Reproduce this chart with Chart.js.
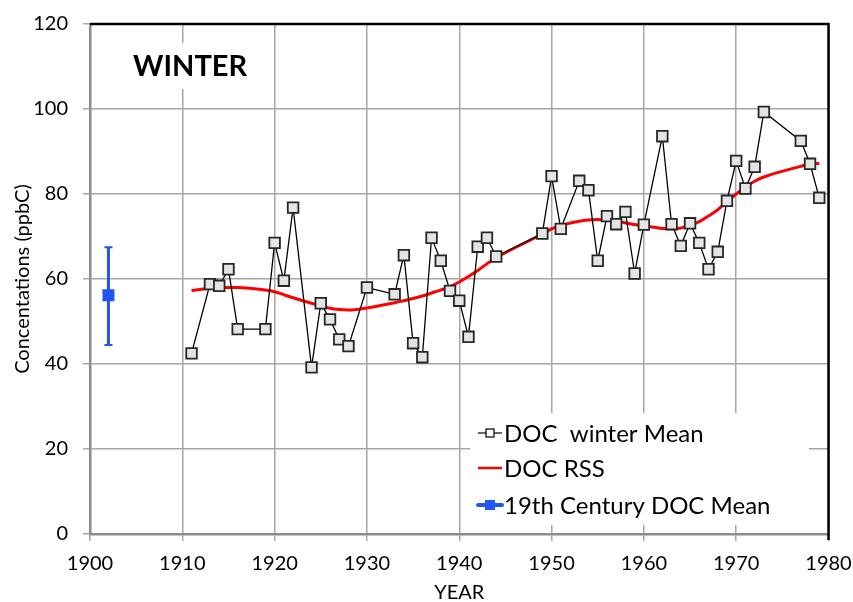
<!DOCTYPE html>
<html>
<head>
<meta charset="utf-8">
<script src="https://cdn.jsdelivr.net/npm/chart.js@4.4.1/dist/chart.umd.min.js"></script>
<style>
  body { margin: 0; background: #fff; }
  #wrap { width: 853px; height: 602px; }
</style>
</head>
<body>
<div id="wrap"><canvas id="chart" width="853" height="602"></canvas></div>
<script>
// winter DOC values
const years = [1911, 1913, 1914, 1915, 1916, 1919, 1920, 1921, 1922, 1924, 1925, 1926, 1927, 1928,
  1930, 1933, 1934, 1935, 1936, 1937, 1938, 1939, 1940, 1941, 1942, 1943, 1944,
  1949, 1950, 1951, 1953, 1954, 1955, 1956, 1957, 1958, 1959, 1960,
  1962, 1963, 1964, 1965, 1966, 1967, 1968, 1969, 1970, 1971, 1972, 1973, 1977, 1978, 1979];
const winterMean = [42.5, 58.8, 58.4, 62.3, 48.2, 48.2, 68.5, 59.6, 76.8, 39.2, 54.3, 50.5, 45.8, 44.2,
  58.0, 56.4, 65.6, 44.9, 41.6, 69.7, 64.3, 57.2, 54.9, 46.4, 67.6, 69.7, 65.3,
  70.7, 84.2, 71.8, 83.1, 80.9, 64.3, 74.8, 72.9, 75.8, 61.3, 72.8,
  93.6, 72.9, 67.8, 73.1, 68.5, 62.3, 66.4, 78.4, 87.8, 81.3, 86.4, 99.3, 92.5, 87.1, 79.1];
const rssValues = [57.3, 57.8, 58.0, 58.0, 58.0, 57.4, 57.0, 56.3, 55.6, 54.3, 53.7, 53.1, 52.8, 52.7,
  53.2, 54.4, 54.9, 55.4, 56.0, 56.7, 57.4, 58.2, 59.3, 60.6, 62.0, 63.6, 65.0,
  70.6, 71.8, 72.6, 73.6, 73.9, 74.0, 73.9, 73.6, 73.2, 72.8, 72.5,
  71.9, 71.8, 72.0, 72.6, 73.5, 74.8, 76.3, 78.2, 80.0, 81.7, 83.0, 84.0, 86.5, 87.1, 87.2];

// 19th century mean with its range
const centuryYear = [1902];
const centuryMean = [56.2];
const centuryLow = [44.5];
const centuryHigh = [67.5];

const legendLabels = ['DOC  winter Mean', 'DOC RSS', '19th Century DOC Mean'];
const blue = '#2156f5';
const gridGrey = '#a6a6a6';

const extras = {
  id: 'extras',
  beforeDatasetsDraw(chart) {
    const ctx = chart.ctx;
    const xs = chart.scales.x, ys = chart.scales.y;
    ctx.save();
    // white boxes behind the label and legend
    ctx.fillStyle = '#fff';
    ctx.fillRect(125, 43, 124, 46);
    ctx.fillRect(470, 413, 339, 112);
    // error bars
    ctx.strokeStyle = blue;
    centuryYear.forEach((yr, i) => {
      const px = xs.getPixelForValue(yr);
      const top = ys.getPixelForValue(centuryHigh[i]);
      const bot = ys.getPixelForValue(centuryLow[i]);
      ctx.lineWidth = 3;
      ctx.beginPath();
      ctx.moveTo(px, top); ctx.lineTo(px, bot);
      ctx.stroke();
      ctx.lineWidth = 2;
      ctx.beginPath();
      ctx.moveTo(px - 4, top); ctx.lineTo(px + 4, top);
      ctx.moveTo(px - 4, bot); ctx.lineTo(px + 4, bot);
      ctx.stroke();
    });
    ctx.restore();
  },
  afterDatasetsDraw(chart) {
    const ctx = chart.ctx;
    const a = chart.chartArea;
    ctx.save();
    // black frame top and right
    ctx.strokeStyle = '#000';
    ctx.lineWidth = 2.5;
    ctx.beginPath();
    ctx.moveTo(a.left, a.top);
    ctx.lineTo(a.right, a.top);
    ctx.lineTo(a.right, a.bottom + 6);
    ctx.stroke();

    ctx.fillStyle = '#000';
    ctx.font = 'bold 29px Lato';
    ctx.textBaseline = 'middle';
    ctx.fillText('WINTER', 133, 67);

    // legend
    ctx.font = '24px Lato';
    const rows = [433, 468, 505];
    const lx0 = 478, lx1 = 502, tx = 504;
    // row 1
    ctx.strokeStyle = '#000';
    ctx.lineWidth = 1.2;
    ctx.beginPath(); ctx.moveTo(lx0, rows[0]); ctx.lineTo(lx1, rows[0]); ctx.stroke();
    ctx.fillStyle = '#fff';
    ctx.fillRect(486, rows[0] - 4, 8, 8);
    ctx.strokeRect(486, rows[0] - 4, 8, 8);
    // row 2
    ctx.strokeStyle = '#ff0000';
    ctx.lineWidth = 2.5;
    ctx.beginPath(); ctx.moveTo(lx0, rows[1]); ctx.lineTo(lx1, rows[1]); ctx.stroke();
    // row 3
    ctx.strokeStyle = blue;
    ctx.lineWidth = 4;
    ctx.lineCap = 'round';
    ctx.beginPath(); ctx.moveTo(lx0, rows[2]); ctx.lineTo(lx1, rows[2]); ctx.stroke();
    ctx.fillStyle = blue;
    ctx.fillRect(485, rows[2] - 5, 10, 10);

    ctx.fillStyle = '#000';
    legendLabels.forEach((t, i) => ctx.fillText(t, tx, rows[i] + 1));
    ctx.restore();
  }
};

function draw() {
  new Chart(document.getElementById('chart'), {
    type: 'line',
    data: {
      datasets: [
        {
          label: legendLabels[0],
          data: years.map((yr, i) => ({ x: yr, y: winterMean[i] })),
          borderColor: '#000',
          borderWidth: 1.3,
          tension: 0,
          pointStyle: 'rect',
          pointRadius: 7.5,
          pointBackgroundColor: '#e4e4e4',
          pointBorderColor: '#262626',
          pointBorderWidth: 1.8,
          order: 1
        },
        {
          label: legendLabels[1],
          data: years.map((yr, i) => ({ x: yr, y: rssValues[i] })),
          borderColor: '#ff0000',
          borderWidth: 3,
          cubicInterpolationMode: 'monotone',
          pointRadius: 0,
          order: 2
        },
        {
          label: legendLabels[2],
          data: centuryYear.map((yr, i) => ({ x: yr, y: centuryMean[i] })),
          showLine: false,
          pointStyle: 'rect',
          pointRadius: 8.5,
          pointBackgroundColor: blue,
          pointBorderColor: blue,
          pointBorderWidth: 0,
          order: 0
        }
      ]
    },
    options: {
      responsive: false,
      animation: false,
      layout: { padding: { top: 24, right: 24.5, left: 0, bottom: 0 } },
      plugins: { legend: { display: false }, tooltip: { enabled: false } },
      scales: {
        x: {
          type: 'linear',
          min: 1900,
          max: 1980,
          afterFit: (s) => { s.height = 68; s.paddingLeft = 0; s.paddingRight = 0; },
          ticks: { stepSize: 10, color: '#000', font: { family: 'Lato', size: 20 }, padding: 11, maxRotation: 0,
            callback: (v) => String(v) },
          grid: { color: gridGrey, lineWidth: 1.5, tickLength: 7, tickColor: gridGrey },
          border: { color: '#8c8c8c', width: 2.5 },
          title: { display: true, text: 'YEAR', color: '#000', font: { family: 'Lato', size: 20 }, padding: { top: 0, bottom: -3 } }
        },
        y: {
          min: 0,
          max: 120,
          afterFit: (s) => { s.width = 90; s.paddingTop = 0; s.paddingBottom = 0; },
          ticks: { stepSize: 20, color: '#000', font: { family: 'Lato', size: 20 }, padding: 15 },
          grid: { color: gridGrey, lineWidth: 1.5, tickLength: 7, tickColor: gridGrey },
          border: { color: '#8c8c8c', width: 2.5 },
          title: { display: true, text: 'Concentations (ppbC)', color: '#000', font: { family: 'Lato', size: 20 }, padding: { top: 11, bottom: 0 } }
        }
      }
    },
    plugins: [extras]
  });
}

Promise.all([document.fonts.load('20px Lato'), document.fonts.load('bold 29px Lato')]).then(draw, draw);
</script>
</body>
</html>
